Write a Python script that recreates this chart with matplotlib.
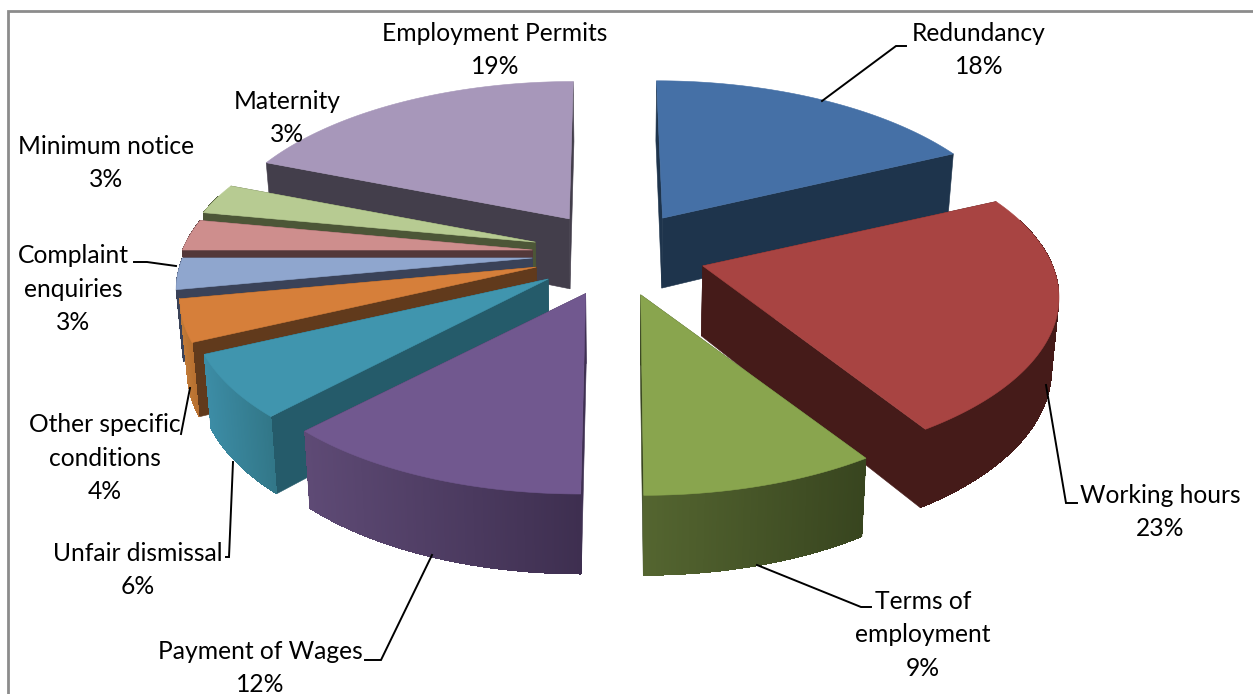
import numpy as np
import matplotlib
matplotlib.use("Agg")
import matplotlib.pyplot as plt
from matplotlib.collections import PolyCollection
from matplotlib.colors import to_rgb
from matplotlib.patches import Polygon, Rectangle

# Enquiry topics, clockwise from twelve o'clock
categories = ["Redundancy", "Working hours", "Terms of\nemployment", "Payment of Wages",
              "Unfair dismissal", "Other specific\nconditions", "Complaint\nenquiries",
              "Minimum notice", "Maternity", "Employment Permits"]
shares = [18, 23, 9, 12, 6, 4, 3, 3, 3, 19]

top_colors = ["#4570A6", "#A84442", "#89A54E", "#71588F", "#4095AE",
              "#D67F3A", "#8FA6CE", "#CE8E8D", "#B7CB92", "#A797BA"]
cut_colors = ["#1E344C", "#451B19", "#38451F", "#3F3052", "#255B6A",
              "#613A1C", "#3A4258", "#53383A", "#4C5637", "#433E4B"]
rim_light = ["#1E344C", "#451B19", "#546530", "#5E4A75", "#3C8CA5",
             "#C07A38", "#3A4258", "#53383A", "#4C5637", "#433E4B"]
rim_dark = ["#1E344C", "#451B19", "#38451F", "#3E2F50", "#327788",
            "#B87030", "#3A4258", "#53383A", "#4C5637", "#433E4B"]
explode = [1.0, 1.05, 1.0, 1.0, 1.0, 1.0, 1.0, 1.0, 1.0, 1.0]
lean = [6, 0, 3, -5, 0, 0, 0, 0, 0, -4]
paint_order = [9, 0, 8, 7, 6, 5, 4, 1, 2, 3]

label_pos = [(979, 50), (1160, 512), (923, 635), (260, 668), (138, 570),
             (105, 458), (73, 289), (106, 163), (287, 118), (495, 50)]
leaders = [[(822, 101), (896, 46), (906, 46)],
           [(1046, 385), (1066, 503), (1077, 503)],
           [(757, 565), (861, 607), (871, 607)],
           [(432, 555), (381, 660), (365, 660)],
           [(233, 462), (229, 557), (226, 557)],
           [(190, 388), (181, 434)],
           [(176, 266), (147, 262), (134, 262)]]

# Ground-plane projection: pie centre, explosion, radius and perspective
CX, CY = 617.0, 254.0
EXPLODE_X, EXPLODE_Y = 85.0, 42.5
RADIUS_X, RADIUS_Y, TILT = 350.0, 163.0, 0.187
DEPTH, DEPTH_GROWTH, VANISH_X, SHRINK = 70.0, 10.0, 617.0, 0.0165
RIM_FACING = 0.3  # outer wall is drawn only where cos(theta) is below this


def rim_points(tip, theta, slant):
    w = 1 + TILT * np.cos(theta)
    return np.column_stack((tip[0] + RADIUS_X * np.sin(theta) / w - slant * np.cos(theta),
                            tip[1] - RADIUS_Y * np.cos(theta) / w))


def extrude(pts, theta):
    out = pts.copy()
    out[:, 0] -= (pts[:, 0] - VANISH_X) * SHRINK
    out[:, 1] += DEPTH - DEPTH_GROWTH * np.cos(theta)
    return out


plt.rcParams["font.family"] = ["Lato", "DejaVu Sans"]
fig = plt.figure(figsize=(12.53, 6.94), dpi=100)
ax = fig.add_axes([0, 0, 1, 1])
ax.set_xlim(0, 1253)
ax.set_ylim(694, 0)
ax.axis("off")

ax.add_patch(Rectangle((8, 11), 1300, 720, fc="white", ec="#8C8C8C", lw=2, zorder=0))

edges = np.radians(np.cumsum([0] + shares) / sum(shares) * 360)
z = 1
for i in paint_order:
    a0, a1 = edges[i], edges[i + 1]
    mid = (a0 + a1) / 2
    tip = np.array([CX + EXPLODE_X * explode[i] * np.sin(mid),
                    CY - EXPLODE_Y * np.cos(mid)])
    theta = np.linspace(a0, a1, 3 * max(int(np.degrees(a1 - a0)), 8) + 1)
    rim = rim_points(tip, theta, lean[i])
    low = extrude(rim, theta)

    # the two radial cut faces
    tip_low = extrude(tip[None, :], np.array([np.pi / 2]))[0]
    for k in (0, -1):
        ax.add_patch(Polygon([tip, rim[k], low[k], tip_low], fc=cut_colors[i],
                             ec=cut_colors[i], lw=0.4, zorder=z))
        z += 1

    # outer wall where it faces the viewer, shaded strip by strip from left to right
    front = np.cos(theta) < RIM_FACING
    if front.sum() > 1:
        r, l = rim[front], low[front]
        quads = [[r[k], r[k + 1], l[k + 1], l[k]] for k in range(len(r) - 1)]
        xs = r[:-1, 0]
        t = (xs - xs.min()) / max(np.ptp(xs), 1)
        light, dark = np.array(to_rgb(rim_light[i])), np.array(to_rgb(rim_dark[i]))
        shades = [light + (dark - light) * v for v in t]
        ax.add_patch(Polygon(np.vstack((r, l[::-1])), fc=rim_dark[i], ec="none", zorder=z))
        ax.add_collection(PolyCollection(quads, facecolors=shades, edgecolors="none",
                                         antialiaseds=False, zorder=z))
        z += 1

    # top face
    ax.add_patch(Polygon(np.vstack((tip, rim)), fc=top_colors[i], ec=top_colors[i],
                         lw=0.4, zorder=z))
    z += 1

for path in leaders:
    xs, ys = zip(*path)
    ax.plot(xs, ys, color="black", lw=1.4, zorder=z, solid_joinstyle="miter")

for name, share, (x, y) in zip(categories, shares, label_pos):
    ax.text(x, y, f"{name}\n{share}%", ha="center", va="center", fontsize=17.7,
            linespacing=1.57, color="black", zorder=z + 1)

fig.savefig("out.png", dpi=100)
